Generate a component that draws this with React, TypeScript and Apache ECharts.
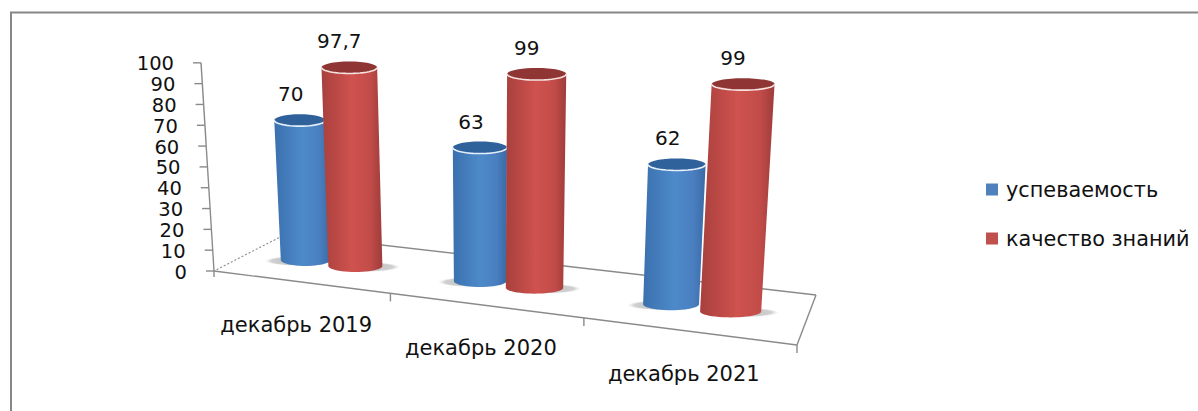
import React, { useEffect, useRef } from "react";
import * as echarts from "echarts";

const categories = ["декабрь 2019", "декабрь 2020", "декабрь 2021"];
const progress = [70, 63, 62];
const quality = [97.7, 99, 99];
const yTicks = [0, 10, 20, 30, 40, 50, 60, 70, 80, 90, 100];
const progressName = "успеваемость";
const qualityName = "качество знаний";

const FONT = '"DejaVu Sans", sans-serif';
const GRID = { left: 214, top: 63, width: 583, height: 207 };
const A = [214, 271], B = [797, 345], C = [816, 295], D = [286, 234];
const VANISH = [490, 4700];

function makeHomography() {
  const [x0, y0] = A, [x1, y1] = B, [x2, y2] = C, [x3, y3] = D;
  const dx1 = x1 - x2, dx2 = x3 - x2, sx = x0 - x1 + x2 - x3;
  const dy1 = y1 - y2, dy2 = y3 - y2, sy = y0 - y1 + y2 - y3;
  const det = dx1 * dy2 - dx2 * dy1;
  const g = (sx * dy2 - dx2 * sy) / det;
  const h = (dx1 * sy - sx * dy1) / det;
  const a = x1 - x0 + g * x1, b = x3 - x0 + h * x3, c = x0;
  const d = y1 - y0 + g * y1, e = y3 - y0 + h * y3, f = y0;
  return (u: number, v: number) => {
    const w = g * u + h * v + 1;
    return [(a * u + b * v + c) / w, (d * u + e * v + f) / w];
  };
}
const floor = makeHomography();
const fullHeight = (p: number[]) => 198 + 0.58 * (p[1] - 257);
const raise = (p: number[], frac: number) => {
  const H = fullHeight(p) * frac;
  return [p[0] + ((p[0] - VANISH[0]) / (VANISH[1] - p[1])) * H, p[1] - H];
};
const fracOf = (y: number) => (GRID.top + GRID.height - y) / GRID.height;
const uOf = (x: number) => (x - GRID.left) / GRID.width;

function arc(c: number[], rx: number, ry: number) {
  const pts: number[][] = [];
  for (let i = 0; i <= 24; i++) {
    const t = Math.PI - (Math.PI * i) / 24;
    pts.push([c[0] + rx * Math.cos(t), c[1] + ry * Math.sin(t)]);
  }
  return pts;
}
function fullEllipse(c: number[], rx: number, ry: number) {
  return { type: "ellipse", shape: { cx: c[0], cy: c[1], rx, ry } };
}

function cylinder(look: any) {
  return (_: any, api: any) => {
    const cat = api.value(0);
    const val = api.value(1);
    const pt = api.coord([cat, val]);
    const foot = floor(uOf(pt[0]) + look.du, look.v);
    const top = raise(foot, fracOf(pt[1]));
    const rB = fullHeight(foot) * look.r;
    const rT = rB * 1.03;
    const ry = 6;
    const frontTop = arc(top, rT, ry);
    const frontBot = arc(foot, rB, ry).reverse();
    const shadow = [foot[0] + look.shadow, foot[1] + 1];
    const children: any[] = [
      {
        ...fullEllipse(shadow, rB + 8, 5),
        style: {
          fill: new echarts.graphic.RadialGradient(0.5, 0.5, 0.5, [
            { offset: 0, color: "rgba(140,140,140,0.6)" },
            { offset: 0.8, color: "rgba(160,160,160,0.5)" },
            { offset: 1, color: "rgba(210,210,210,0)" },
          ]),
        },
      },
      {
        type: "polygon",
        shape: { points: [...frontTop, ...frontBot] },
        style: {
          fill: new echarts.graphic.LinearGradient(0, 0, 1, 0, look.stops),
        },
      },
      { ...fullEllipse(top, rT, ry), style: { fill: look.cap } },
      {
        type: "polyline",
        shape: { points: frontTop },
        style: { stroke: look.rim, lineWidth: 1.6, fill: "none" },
      },
      {
        type: "text",
        style: {
          text: String(val).replace(".", ","),
          x: top[0] + look.labelDx,
          y: top[1] - 26,
          fill: "#111",
          font: `20px ${FONT}`,
          align: "center",
          verticalAlign: "middle",
        },
      },
    ];
    return { type: "group", children };
  };
}

const blueLook = {
  du: -0.052, v: 0.46, r: 0.124, shadow: -8, labelDx: -9, cap: "#2f619b", rim: "#e6f0fb",
  stops: [
    { offset: 0, color: "#3b70ae" },
    { offset: 0.5, color: "#4d8aca" },
    { offset: 0.8, color: "#4a7fc0" },
    { offset: 1, color: "#3a6aa6" },
  ],
};
const redLook = {
  du: 0.046, v: 0.46, r: 0.133, shadow: 10, labelDx: -10, cap: "#8f3634", rim: "#f7e3e1",
  stops: [
    { offset: 0, color: "#a8403d" },
    { offset: 0.5, color: "#cf524e" },
    { offset: 0.8, color: "#c24c49" },
    { offset: 1, color: "#9e3c3a" },
  ],
};

const AXIS_SCALE = 1.01;

function renderFrame(_: any, api: any) {
  const line = "#8a8a8a";
  const seg = (a: number[], b: number[], extra: any = {}) => ({
    type: "line",
    shape: { x1: a[0], y1: a[1], x2: b[0], y2: b[1] },
    style: { stroke: line, lineWidth: 1.4, ...extra },
  });
  const children: any[] = [
    seg(A, B), seg(B, C), seg(C, D), seg(D, A, { lineDash: [2, 2], lineWidth: 1.1 }),
    seg(A, raise(A, AXIS_SCALE)),
  ];
  categories.forEach((name, i) => {
    const edge = floor((i + 1) / categories.length, 0);
    children.push(seg(edge, [edge[0], edge[1] + 8]));
    const mid = floor((i + 0.5) / categories.length, 0);
    children.push({
      type: "text",
      style: {
        text: name, x: mid[0] - 4, y: mid[1] + 43, fill: "#111",
        font: `21px ${FONT}`, align: "center", verticalAlign: "middle",
      },
    });
  });
  children.push(seg(A, [A[0], A[1] + 6]));
  return { type: "group", children };
}

function renderTick(_: any, api: any) {
  const val = api.value(1);
  const pt = api.coord([0, val]);
  const p = raise(A, fracOf(pt[1]) * AXIS_SCALE);
  return {
    type: "group",
    children: [
      {
        type: "line",
        shape: { x1: p[0] - 8, y1: p[1], x2: p[0], y2: p[1] },
        style: { stroke: "#8a8a8a", lineWidth: 1.4 },
      },
      {
        type: "text",
        style: {
          text: String(val), x: p[0] - 27, y: p[1] + 1, fill: "#111",
          font: `19.5px ${FONT}`, align: "right", verticalAlign: "middle",
        },
      },
    ],
  };
}

export default function App() {
  const ref = useRef<HTMLDivElement>(null);
  useEffect(() => {
    const chart = echarts.init(ref.current!, null, { renderer: "svg" });
    chart.setOption({
      animation: false,
      backgroundColor: "#ffffff",
      grid: { ...GRID, containLabel: false },
      xAxis: { type: "category", data: categories, show: false },
      yAxis: { type: "value", min: 0, max: 100, interval: 10, show: false },
      legend: {
        data: [progressName, qualityName],
        orient: "vertical", left: 981, top: 174, itemWidth: 12, itemHeight: 12,
        itemGap: 28, icon: "rect", selectedMode: false,
        textStyle: { fontFamily: FONT, fontSize: 20.8, color: "#111", padding: [0, 0, 0, 3] },
      },
      graphic: [{
        type: "polyline", silent: true,
        shape: { points: [[11, 411], [11, 12.5], [1198, 12.5]] },
        style: { stroke: "#878787", lineWidth: 2, fill: "none" },
      }],
      series: [
        { type: "custom", name: "frame", silent: true, renderItem: renderFrame, data: [[0, 0]], encode: { x: 0, y: 1 }, clip: false },
        { type: "custom", name: "ticks", silent: true, renderItem: renderTick, data: yTicks.map((t) => [0, t]), encode: { x: 0, y: 1 }, clip: false },
        { type: "custom", name: progressName, silent: true, renderItem: cylinder(blueLook), itemStyle: { color: "#4f81bd" }, data: progress.map((v, i) => [i, v]), encode: { x: 0, y: 1 }, clip: false },
        { type: "custom", name: qualityName, silent: true, renderItem: cylinder(redLook), itemStyle: { color: "#c0504d" }, data: quality.map((v, i) => [i, v]), encode: { x: 0, y: 1 }, clip: false },
      ],
    });
    return () => chart.dispose();
  }, []);
  return <div ref={ref} style={{ position: "fixed", left: 0, top: 0, width: 1198, height: 411 }} />;
}
